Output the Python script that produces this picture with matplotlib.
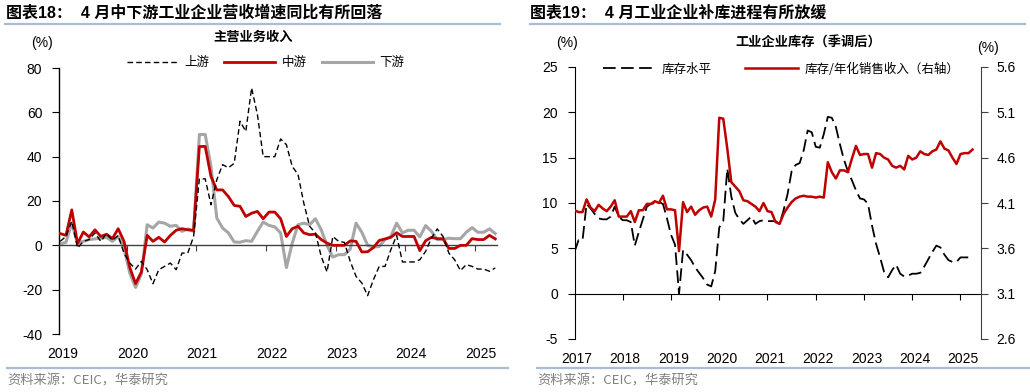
import matplotlib
matplotlib.use('Agg')
import matplotlib.pyplot as plt
import numpy as np
from matplotlib.lines import Line2D

plt.rcParams['font.family'] = ['Liberation Sans', 'Noto Sans CJK SC', 'DejaVu Sans']
plt.rcParams['axes.unicode_minus'] = False

# ---------------- data ----------------
left_years = ['2019', '2020', '2021', '2022', '2023', '2024', '2025']
# monthly, 2019-01 .. 2025-04 (主营业务收入同比, %)
upstream = [1.8, 4, 10.8, -1.2, 1.8, 2.6, 5.6, 1.8, 5.3, 2.3, 4.4, -3.5,
            -8, -10.7, -7.2, -11, -17.3, -11, -9.5, -8, -11, -3.5, -3.5, 4,
            30, 30, 18.3, 29.6, 36.4, 35, 37, 56, 51.4, 71, 59, 40,
            40, 40, 48, 45.4, 35.6, 32, 19, 8.6, 5.6, -5, -12, 4,
            1.8, 1.3, -7.2, -14, -17, -22.7, -15.5, -9.5, -9.5, -2, 4.5, -7.5,
            -7.5, -7.5, -6.5, -2.7, 3.3, 7.4, 4, -3.5, -6.5, -11.4, -8.7, -9.5,
            -10.7, -10.7, -11.7, -10.2]
midstream = [5.3, 4.5, 16, 0.8, 6, 3.8, 7, 4, 5, 3, 7.5, 1.8,
             -10, -17.3, -12, 4.5, 1.8, 3.6, 1.5, 4.5, 6.8, 7.5, 7, 6.8,
             44.6, 44.6, 31, 25, 25, 22, 18, 17.6, 13, 14.5, 15.3, 12,
             15, 15, 12, 4, 7.5, 8.6, 5.6, 4.8, 5, 2.6, 1, 0,
             0, 0, 2, 1.8, -3, -2.9, -1, 2.2, 2.9, 3.6, 5.7, 4,
             4, 4, -2.4, 2.1, 3.6, 3, 3, -1.4, -1.4, 0, 0, 3,
             2.6, 2.6, 4.5, 2.9]
downstream = [0.6, 1.4, 10, 1, 1.8, 2.6, 2.9, 3.2, 3.6, 1.8, 4, -1.2,
              -12.5, -19, -13, 9.3, 7.8, 10.5, 10, 8.6, 9, 6.3, 7.4, 6.3,
              50, 50, 35.6, 12.3, 7.8, 5.6, 1.5, 1.4, 2.1, 1.8, 6.3, 10.5,
              9, 8.3, 5.6, -10, 1, 9.3, 10, 9.3, 12, 7, 0, -5.3,
              -4.2, -4.2, -1.7, 10, 5.9, 0, -0.8, -0.5, 2.6, 4, 10, 5.6,
              6.8, 6.8, 3.8, 8.9, 6.3, 2.6, 2.6, 3.2, 3, 3, 5.9, 8,
              5.9, 5.9, 7.4, 5.3]

right_years = ['2017', '2018', '2019', '2020', '2021', '2022', '2023', '2024', '2025']
# monthly, 2017-01 .. 2025-04
inventory_level = [4.6, 5.9, 5.9, 9.9, 9.4, 8.8, 8.3, 8.2, 8.2, 8.5, 9.6, 8.5,
                   8.1, 8.1, 7.9, 5.3, 6.8, 8.2, 9.6, 9.9, 10, 10.1, 9.9, 8.3,
                   6.5, 5.4, 0, 4.8, 4.3, 3.7, 2.9, 2.3, 1.7, 1.0, 0.8, 2.5,
                   7.3, 8, 13.8, 10.7, 8.9, 8.2, 7.7, 8.1, 8.5, 7.7, 8, 8.1,
                   8, 8, 8, 7.7, 9.2, 11, 13.5, 14.2, 14.4, 15.8, 18.0, 17.8,
                   16.2, 16.1, 17.6, 19.5, 19.4, 18.4, 16.5, 14.8, 13.5, 12.5, 11.4, 10.5,
                   10.4, 9.9, 7.5, 5.5, 4, 2.4, 1.8, 2.6, 3.2, 2.2, 1.9, 2.0,
                   2.2, 2.2, 2.3, 3.0, 3.8, 4.6, 5.3, 5.1, 4.3, 3.7, 3.5, 3.5,
                   4.0, 4.0, 4.0, 3.9]
inventory_ratio = [4.02, 4.00, 4.00, 4.14, 4.05, 4.01, 4.08, 4.04, 4.01, 4.06, 4.13, 3.95,
                   3.95, 3.95, 4.01, 3.89, 4.02, 4.02, 4.09, 4.09, 4.12, 4.10, 4.18, 4.03,
                   4.03, 4.02, 3.57, 4.11, 4.00, 4.06, 3.97, 4.02, 4.05, 4.06, 3.95, 4.14,
                   5.04, 5.03, 4.70, 4.33, 4.28, 4.23, 4.13, 4.12, 4.09, 4.06, 4.01, 4.10,
                   4.01, 4.00, 3.89, 3.87, 3.98, 4.05, 4.11, 4.15, 4.17, 4.18, 4.17, 4.17,
                   4.16, 4.17, 4.16, 4.55, 4.44, 4.37, 4.46, 4.46, 4.44, 4.59, 4.73, 4.63,
                   4.64, 4.64, 4.49, 4.65, 4.64, 4.60, 4.58, 4.51, 4.49, 4.51, 4.47, 4.62,
                   4.58, 4.60, 4.67, 4.64, 4.63, 4.67, 4.69, 4.78, 4.70, 4.68, 4.60, 4.53,
                   4.64, 4.65, 4.65, 4.69]

# ---------------- styles ----------------
RED = '#c00000'
GRAY = '#a6a6a6'
RULE = '#a9bcd2'
CJK = ['Noto Sans CJK SC', 'DejaVu Sans']
MIX = ['Liberation Sans', 'Noto Sans CJK SC', 'DejaVu Sans']

W, H = 1030, 392
fig = plt.figure(figsize=(W / 100, H / 100), dpi=100)


def fx(px):
    return px / W


def fy(py):
    return 1 - py / H


# ---------------- headers / footers ----------------
fig.text(fx(6), fy(13), '图表18：  4 月中下游工业企业营收增速同比有所回落', family=MIX,
         fontsize=11.5, fontweight='bold', ha='left', va='center')
fig.text(fx(530), fy(13), '图表19：  4 月工业企业补库进程有所放缓', family=MIX,
         fontsize=11.5, fontweight='bold', ha='left', va='center')
fig.add_artist(Line2D([fx(5), fx(500)], [fy(23.5), fy(23.5)], color=RULE, lw=1.6))
fig.add_artist(Line2D([fx(530), fx(1025)], [fy(23.5), fy(23.5)], color=RULE, lw=1.6))
fig.add_artist(Line2D([fx(7), fx(508)], [fy(368), fy(368)], color=RULE, lw=1.6))
fig.add_artist(Line2D([fx(537), fx(1030)], [fy(368), fy(368)], color=RULE, lw=1.6))
fig.text(fx(7), fy(381), '资料来源：CEIC，华泰研究', family=CJK, fontsize=9.5,
         color='#808080', ha='left', va='center')
fig.text(fx(537), fy(381), '资料来源：CEIC，华泰研究', family=CJK, fontsize=9.5,
         color='#808080', ha='left', va='center')

# ---------------- left chart ----------------
ax1 = fig.add_axes([fx(59), fy(334), 438 / W, 266 / H])
xl = np.arange(len(upstream))
ax1.plot(xl, downstream, color=GRAY, lw=2.2, zorder=2, label='下游')
ax1.plot(xl, midstream, color=RED, lw=2.0, zorder=3, label='中游')
ax1.plot(xl, upstream, color='black', lw=1.0, ls=(0, (4, 2.3)), zorder=4, label='上游')
ax1.set_xlim(-0.2, 75.3)
ax1.set_ylim(-40, 80)
ax1.set_yticks(np.arange(-40, 81, 20))
ax1.set_xticks(np.arange(1, len(left_years)) * 12 - 0.5)
ax1.spines['top'].set_visible(False)
ax1.spines['right'].set_visible(False)
ax1.spines['bottom'].set_position(('data', 0))
ax1.spines['bottom'].set_color('#404040')
ax1.spines['bottom'].set_linewidth(1.0)
ax1.spines['left'].set_linewidth(1.0)
ax1.tick_params(axis='y', direction='out', length=5, width=0.8, pad=7, labelsize=10)
ax1.tick_params(axis='x', direction='out', length=4, width=0.8, labelbottom=False,
                color='#404040')
sec1 = ax1.secondary_xaxis('bottom')
sec1.set_xticks(np.arange(len(left_years)) * 12 + 0.5, labels=left_years)
sec1.tick_params(length=0, pad=9.5, labelsize=10)
sec1.spines['bottom'].set_visible(False)

h = ax1.get_legend_handles_labels()[0]
ax1.legend([h[2], h[1], h[0]], ['上游', '中游', '下游'], loc='center',
           bbox_to_anchor=(0.471, 1.019), ncol=3, frameon=False,
           prop={'family': CJK, 'size': 9}, handlelength=4.1, handletextpad=0.5,
           columnspacing=1.2, borderpad=0, borderaxespad=0)

fig.text(fx(42), fy(43), '(%)', fontsize=10, ha='center', va='center')
fig.text(fx(253), fy(37), '主营业务收入', family=CJK, fontsize=9.5, fontweight='bold',
         ha='center', va='center')

# ---------------- right chart ----------------
ax2 = fig.add_axes([fx(574.5), fy(339), 406.5 / W, 272 / H])
ax3 = ax2.twinx()
xr = np.arange(len(inventory_level))
l1, = ax2.plot(xr, inventory_level, color='black', lw=1.3, ls=(0, (7, 3)),
               label='库存水平')
l2, = ax3.plot(xr, inventory_ratio, color=RED, lw=1.8, label='库存/年化销售收入（右轴）')
ax2.set_xlim(0, 101.1)
ax2.set_ylim(-5, 25)
ax2.set_yticks(np.arange(-5, 26, 5))
ax3.set_ylim(2.6, 5.6)
ax3.set_yticks(np.round(np.arange(2.6, 5.61, 0.5), 1))
ax3.yaxis.set_major_formatter(matplotlib.ticker.FormatStrFormatter('%.1f'))
ax2.set_xticks(np.arange(1, len(right_years)) * 12)
for s in ['top', 'right']:
    ax2.spines[s].set_visible(False)
for s in ['top', 'left', 'bottom']:
    ax3.spines[s].set_visible(False)
ax3.spines['right'].set_color('#404040')
ax2.spines['bottom'].set_position(('data', 0))
ax2.tick_params(axis='y', direction='out', length=5, width=0.8, pad=7, labelsize=10)
ax3.tick_params(axis='y', direction='out', length=5, width=0.8, pad=6, labelsize=10,
                color='#404040')
ax2.tick_params(axis='x', direction='out', length=4, width=0.8, labelbottom=False)
sec2 = ax2.secondary_xaxis('bottom')
sec2.set_xticks(np.arange(len(right_years)) * 12 + 0.6, labels=right_years)
sec2.tick_params(length=0, pad=9.5, labelsize=10)
sec2.spines['bottom'].set_visible(False)

ax3.legend([l1, l2], ['库存水平', '库存/年化销售收入（右轴）'], loc='center',
           bbox_to_anchor=(0.508, 0.993), ncol=2, frameon=False,
           prop={'family': CJK, 'size': 9}, handlelength=4.2, handletextpad=0.5,
           columnspacing=2.7, borderpad=0, borderaxespad=0)

fig.text(fx(567), fy(43), '(%)', fontsize=10, ha='center', va='center')
fig.text(fx(988), fy(48), '(%)', fontsize=10, ha='center', va='center')
fig.text(fx(808), fy(43), '工业企业库存（季调后）', family=CJK, fontsize=9.5,
         fontweight='bold', ha='center', va='center')

fig.savefig('out.png', dpi=100)
